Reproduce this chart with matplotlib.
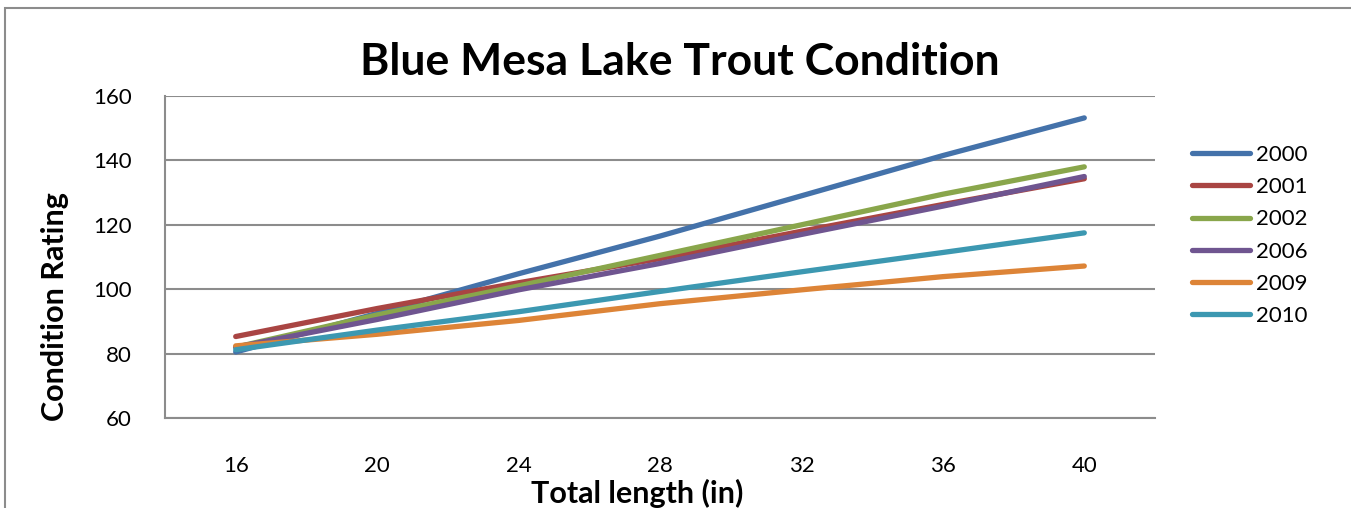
import matplotlib
matplotlib.use("Agg")
import matplotlib.pyplot as plt
from matplotlib.patches import Rectangle

# Datos
lengths = ["16", "20", "24", "28", "32", "36", "40"]
years = ["2000", "2001", "2002", "2006", "2009", "2010"]
y2000 = [80.5, 92.5, 104.8, 116.5, 129.0, 141.5, 153.2]
y2001 = [85.3, 94.0, 102.0, 109.5, 118.0, 126.3, 134.3]
y2002 = [82.0, 92.0, 101.0, 110.5, 120.0, 129.5, 138.0]
y2006 = [82.0, 90.6, 99.8, 108.0, 117.0, 125.8, 135.0]
y2009 = [82.4, 86.0, 90.3, 95.5, 99.8, 103.9, 107.2]
y2010 = [81.2, 87.3, 93.0, 99.3, 105.4, 111.4, 117.5]
series = [y2000, y2001, y2002, y2006, y2009, y2010]
colors = ["#4472AA", "#A94543", "#89A64B", "#6F5590", "#DD8437", "#3C98B1"]

plt.rcParams["font.family"] = ["Lato", "DejaVu Sans"]

fig = plt.figure(figsize=(13.51, 5.08), dpi=100)
ax = fig.add_axes([165 / 1351, 1 - 418 / 508, 990 / 1351, 322 / 508])

x = list(range(len(lengths)))
for vals, name, c in zip(series, years, colors):
    ax.plot(x, vals, color=c, lw=3.8, solid_capstyle="round", label=name)

ax.set_xlim(-0.5, len(lengths) - 0.5)
ax.set_ylim(60, 160)
ax.set_yticks([60, 80, 100, 120, 140, 160])
ax.set_xticks(x)
ax.set_xticklabels(lengths)
ax.tick_params(axis="both", length=0, labelsize=16)
ax.tick_params(axis="x", pad=27)
ax.tick_params(axis="y", pad=24)
ax.grid(axis="y", color="#8c8c8c", lw=1.5)
ax.set_axisbelow(True)
for s in ["top", "right"]:
    ax.spines[s].set_visible(False)
for s in ["left", "bottom"]:
    ax.spines[s].set_color("#8c8c8c")
    ax.spines[s].set_linewidth(1.5)

fig.text(680 / 1351, 1 - 62 / 508, "Blue Mesa Lake Trout Condition",
         ha="center", va="center", fontsize=32, fontweight="bold")
fig.text(637 / 1351, 1 - 493 / 508, "Total length (in)",
         ha="center", va="center", fontsize=22, fontweight="bold")
fig.text(55 / 1351, 1 - 307 / 508, "Condition Rating", rotation=90,
         ha="center", va="center", fontsize=22, fontweight="bold")

ax.legend(loc="upper left", bbox_to_anchor=(1018 / 990, 1 - 40 / 322),
          frameon=False, fontsize=16, handlelength=2.6, labelspacing=0.55,
          handletextpad=0.3, borderaxespad=0)

fig.add_artist(Rectangle((5 / 1351, -0.1), 1.2, 1 - 8 / 508 + 0.1,
                         transform=fig.transFigure, fill=False,
                         edgecolor="#8c8c8c", lw=1.5))

fig.savefig("out.png", dpi=100)
